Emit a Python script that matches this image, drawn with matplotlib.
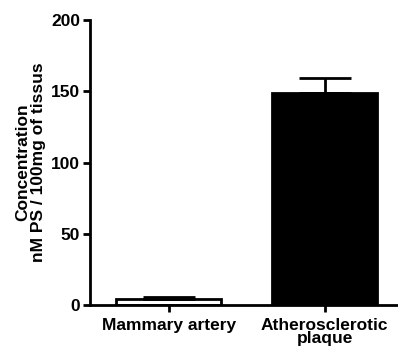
import numpy as np
import matplotlib
matplotlib.use("Agg")
import matplotlib.pyplot as plt

plt.rcParams['font.family'] = ['Liberation Sans', 'DejaVu Sans']
plt.rcParams['font.weight'] = 'bold'

categories = ["Mammary artery", "Atherosclerotic\nplaque"]
values = [4.5, 148.5]
errors = [1.0, 11.0]
fills = ["white", "black"]

fig = plt.figure(figsize=(3.98, 3.47), dpi=100)
ax = fig.add_axes([0.226, 0.121, 0.774, 0.821])

x = np.arange(len(categories))
for i in range(len(categories)):
    ax.bar(x[i], values[i], width=0.675, color=fills[i], edgecolor="black", linewidth=2)
    ax.errorbar(x[i], values[i], yerr=[[0], [errors[i]]], color="black",
                capsize=19, elinewidth=2, capthick=2, fmt="none")

ax.set_xlim(-0.506, 1.47)
ax.set_ylim(0, 200)
ax.set_yticks([0, 50, 100, 150, 200])
ax.set_xticks(x)
ax.set_xticklabels(categories, fontsize=12.5, fontweight='bold', linespacing=0.85)
ax.tick_params(axis='y', labelsize=12.5, width=2, length=5, pad=2)
ax.tick_params(axis='x', width=2, length=5, pad=4.5)
for lbl in ax.get_yticklabels():
    lbl.set_fontweight('bold')

for s in ['top', 'right']:
    ax.spines[s].set_visible(False)
for s in ['left', 'bottom']:
    ax.spines[s].set_linewidth(2)

ax.set_ylabel("Concentration\nnM PS / 100mg of tissus", fontsize=12.5, fontweight='bold',
              linespacing=1.0, labelpad=4)

fig.savefig("out.png", dpi=100)
